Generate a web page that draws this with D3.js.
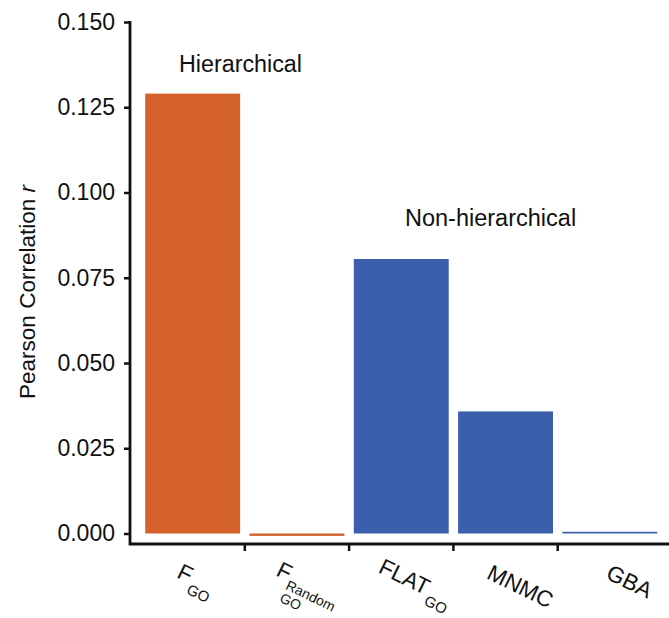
<!DOCTYPE html>
<html>
<head>
<meta charset="utf-8">
<script src="https://cdn.jsdelivr.net/npm/d3@7"></script>
<style>
  html, body { margin: 0; padding: 0; background: #fff; }
  svg { display: block; font-family: "Liberation Sans", Arial, sans-serif; }
</style>
</head>
<body>
<svg id="chart" width="669" height="618"></svg>
<script>
// ---- data ----
const categories = ["F_GO", "F_Random_GO", "FLAT_GO", "MNMC", "GBA"];
const values = [0.1290, -0.0007, 0.0805, 0.0358, 0.0005];
const groups = ["Hierarchical", "Hierarchical", "Non-hierarchical", "Non-hierarchical", "Non-hierarchical"];
const yTicks = [0, 0.025, 0.05, 0.075, 0.1, 0.125, 0.15];
const yTickLabels = ["0.000", "0.025", "0.050", "0.075", "0.100", "0.125", "0.150"];
const groupLabels = ["Hierarchical", "Non-hierarchical"];
const colors = { "Hierarchical": "#D5622B", "Non-hierarchical": "#3B5FAD" };

const svg = d3.select("#chart");
const axisX = 130, axisBottom = 544;

const x = d3.scaleBand().domain(categories).range([140.5, 662]).paddingInner(0.09).paddingOuter(0.045);
const y = d3.scaleLinear().domain([0, 0.15]).range([533.5, 22]);

// bars
svg.append("g").selectAll("rect").data(categories).join("rect")
  .attr("x", d => x(d))
  .attr("width", x.bandwidth())
  .attr("y", (d, i) => Math.min(y(values[i]), y(0)))
  .attr("height", (d, i) => Math.max(Math.abs(y(values[i]) - y(0)), 1.5))
  .attr("fill", (d, i) => colors[groups[i]]);

// y axis
const yAxis = d3.axisLeft(y).tickValues(yTicks).tickFormat((d, i) => yTickLabels[i]).tickSize(6).tickPadding(9).tickSizeOuter(0);
const gy = svg.append("g").attr("transform", `translate(${axisX},0)`).call(yAxis);
gy.select(".domain").remove();
gy.selectAll(".tick line").attr("stroke", "#111").attr("stroke-width", 2.5);
gy.selectAll(".tick text").attr("font-size", 23).attr("fill", "#111").attr("font-family", "Liberation Sans, Arial, sans-serif");

// axis lines
svg.append("path")
  .attr("d", `M${axisX},${y(0.15) - 1}V${axisBottom}H669`)
  .attr("fill", "none").attr("stroke", "#111").attr("stroke-width", 2.8);

// x ticks at band boundaries
const boundaries = categories.slice(1).map(c => x(c) - x.step() * x.paddingInner() / 2);
svg.append("g").selectAll("line").data(boundaries).join("line")
  .attr("x1", d => d).attr("x2", d => d)
  .attr("y1", axisBottom).attr("y2", axisBottom + 7)
  .attr("stroke", "#111").attr("stroke-width", 2.5);

// x labels
const xl = svg.append("g").attr("fill", "#111");
function lab(i, dx, dy) {
  const cx = x(categories[i]) + x.bandwidth() / 2 + dx;
  return xl.append("text").attr("transform", `translate(${cx},${dy}) rotate(26)`).attr("font-size", 22.5);
}
let t;
t = lab(0, -17, 577);
t.append("tspan").text("F");
t.append("tspan").attr("font-size", 15).attr("dy", 10).attr("dx", 2).text("GO");

t = lab(1, -22, 575);
t.append("tspan").text("F");
t.append("tspan").attr("font-size", 14).attr("dy", 8).attr("dx", 1).text("Random");
const t2 = lab(1, -22, 575);
t2.append("tspan").attr("font-size", 14).attr("x", 15).attr("dy", 22).text("GO");

t = lab(2, -24, 572);
t.append("tspan").text("FLAT");
t.append("tspan").attr("font-size", 15).attr("dy", 9).attr("dx", 2).text("GO");

t = lab(3, -20, 578);
t.append("tspan").text("MNMC");

t = lab(4, -5, 578);
t.append("tspan").text("GBA");

// group annotations
svg.append("text").attr("x", 179).attr("y", 72).attr("font-size", 23.3).attr("fill", "#111").text(groupLabels[0]);
svg.append("text").attr("x", 405).attr("y", 226).attr("font-size", 23.5).attr("fill", "#111").text(groupLabels[1]);

// y axis title
const yt = svg.append("text").attr("transform", "translate(35,292) rotate(-90)")
  .attr("text-anchor", "middle").attr("font-size", 22.5).attr("fill", "#111");
yt.append("tspan").text("Pearson Correlation ");
yt.append("tspan").attr("font-style", "italic").text("r");
</script>
</body>
</html>
